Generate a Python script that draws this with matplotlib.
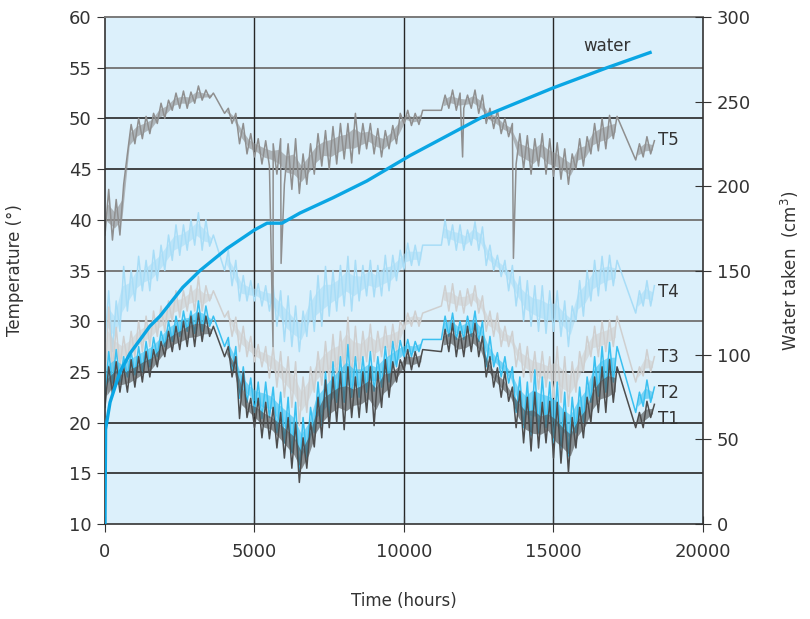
import matplotlib
matplotlib.use("Agg")
import matplotlib.pyplot as plt

plt.rcParams['font.family'] = ['DejaVu Sans']

# time grid (hours), one slot every 250 h; None = no logging (line jumps over)
step = 250
t_grid = [i * step for i in range(74)]

# low / high readings of each probe inside every 250 h slot (deg C)
T5_lo = [38.5, 38, 38.5, 46.5, 47.5, 48, 48.5, 49.5, 50, 50.8, 51, 51, 51.5, 51.8, 52, None,
         50.5, 49.5, 47.5, 46.5, 46.2, 45.5, 45.3, 44.5, 43.5, 43, 42.6, 43.5, 44.5, 45.3,
         45, 45.5, 46, 45.6, 46.5, 47, 46.5, 46.2, 47, 47.5, 49.5, 49.3, 49.4, None, None,
         50.8, 51, 50.8, 51, 51, 50.5, 49.5, 49, 48.5, 48.2, 45.5, 45, 44.5, 45.3, 44.5,
         44.3, 44, 43.5, 45, 45.3, 46.5, 46.8, 47, 48, None, None, 45.9, 46.2, 46.5]
T5_hi = [43, 42, 43.5, 49.4, 50, 50.2, 50.5, 51.5, 51.8, 52.5, 52.7, 52.6, 53.2, 52.8, 52.5, None,
         51, 50.5, 49.5, 48.5, 48, 47.8, 47.5, 48, 47.5, 48, 46.5, 47.5, 48.5, 48.8,
         49.2, 49.5, 49.5, 50.5, 49.5, 49.5, 49, 48.8, 49.3, 50.5, 50.8, 50.5, 50.8, None, None,
         52.3, 52.8, 52.5, 52.3, 52.8, 52.3, 51, 50.8, 50, 49.5, 48.5, 48.3, 48, 48.5, 48,
         47.6, 47, 46.5, 48, 48.2, 49.5, 50, 50.3, 50.2, None, None, 47.5, 48.2, 47.8]
# single-reading drop-outs of T5 (time, temp)
T5_spike_t = [5620, 5890, 11960, 13660]
T5_spike_v = [27.5, 35.7, 46.2, 36.2]

T4_lo = [28, 27, 29, 31, 32, 33, 33, 34, 35, 36, 36.5, 37, 37.5, 37, 37.4, None,
         35, 33.5, 32, 32, 32, 31.5, 31, 29.5, 28, 27.5, 27, 28.5, 29, 29.5,
         30.5, 31, 31.5, 31, 32, 32.5, 32.4, 32.5, 33, 34, 35.1, 35.5, 35.5, None, None,
         37.5, 37.5, 37, 37, 37.5, 37, 35.5, 35, 34.4, 33, 31.5, 30, 29.5, 29, 28.8,
         29, 28.5, 27.5, 30, 30.5, 32, 32.5, 33, 33.5, None, None, 30.8, 31.5, 31.5]
T4_hi = [33, 32, 35.4, 35, 36.4, 36, 37, 37.5, 38.5, 39.5, 39.5, 40, 40.7, 40, 38.5, None,
         37, 36, 34.5, 34, 33.7, 33.5, 33.5, 33, 32.5, 31.5, 31, 33, 34.5, 35.4,
         35, 35.5, 36.4, 36, 35.5, 36, 35.5, 36.5, 36.5, 37, 37.7, 37.5, 37.5, None, None,
         40, 39.5, 39.5, 39, 39.8, 39.3, 37.5, 36.5, 36, 35.5, 34.4, 34, 33.5, 33.5, 33,
         33, 32, 31.5, 34, 35, 36, 36.4, 36.5, 36, None, None, 33, 34, 33.5]

T3_lo = [24, 25, 25.4, 26, 26.5, 27, 27.5, 28.5, 29, 30, 30.4, 31, 31, 31, 32, None,
         30.4, 28.5, 27, 26.5, 26, 25.5, 24.4, 23.5, 22.5, 21.5, 19.7, 21, 23, 23.7,
         24, 24.4, 25, 24.5, 25, 26, 26, 26.5, 26.5, 27, 29.2, 29.5, 29.5, None, None,
         31.5, 31, 31, 30.8, 31.5, 30.8, 29, 28.5, 27.5, 27.5, 25.5, 24.5, 24, 23.3, 23.5,
         22.5, 22, 21.6, 23, 25, 26.5, 26.5, 27, 27.5, None, None, 24, 24.6, 25]
T3_hi = [31.4, 29.4, 28.5, 29, 30, 30.5, 31, 31.5, 32, 33, 33, 33.5, 34.4, 33.5, 33, None,
         31, 30.4, 29.5, 28.5, 27.7, 27.5, 27.5, 27, 26.5, 26, 24.5, 25.5, 27, 28,
         28.7, 29, 30.4, 29.5, 29, 29.7, 29, 29.5, 29.7, 30, 30.8, 31, 30.8, None, None,
         33.5, 33.7, 33, 33.2, 33.5, 32.5, 31, 30.8, 29.5, 29, 27.8, 27.5, 27, 27, 26.5,
         27.5, 26.5, 26, 27, 28.5, 29.5, 30, 30.1, 30.5, None, None, 25.5, 27.2, 26.5]

T2_lo = [22.5, 23.9, 24, 24.5, 24.7, 25, 25.5, 26.5, 27.5, 28, 28.5, 29, 28.8, 29, 29.5, None,
         27.5, 25, 22.4, 22, 21, 20.4, 20.5, 19, 18, 17, 15.1, 16.5, 19, 19.7,
         20.5, 22, 22, 22.5, 22.5, 23, 23.1, 23.5, 24, 25.5, 26.5, 26.5, 27, None, None,
         28.2, 28.5, 28.2, 28.2, 28.5, 28, 25.5, 25.5, 24.5, 23.9, 21, 19.5, 18.7, 19, 19.5,
         18, 17.5, 16.7, 19, 20, 22, 22.6, 23, 24, None, None, 21, 21.6, 22]
T2_hi = [27, 27.2, 26.5, 27, 27.5, 28, 28.4, 29, 30, 30.5, 31, 31, 32, 31.5, 30.5, None,
         28.4, 27.5, 25.5, 24.4, 24, 24, 23.5, 23, 22.5, 22, 20.5, 21.5, 24, 25,
         26, 26.5, 27.7, 26.5, 26.5, 27, 26.5, 27.5, 28, 28.1, 28.2, 28, 28.2, None, None,
         30.5, 30.8, 30, 30.5, 31, 30, 28.5, 26.9, 26.5, 25.5, 24.5, 24, 25.2, 24.5, 24,
         24, 23, 22.5, 23.5, 24.5, 26.5, 27.5, 27.9, 27.5, None, None, 23, 24.2, 23.5]

T1_lo = [21.5, 22.9, 23, 23, 23.5, 24, 24.5, 25.5, 26.5, 27, 27.2, 27.5, 27.5, 28, 28.5, None,
         26.5, 24.5, 20.4, 20.5, 19.5, 18.5, 18.4, 17.5, 16.5, 15.5, 14.1, 15.5, 17.6, 18.5,
         19.5, 20, 19.3, 20.5, 20.5, 21, 19.7, 21.5, 22.5, 24, 25.2, 25.2, 25.5, None, None,
         27, 27, 26.5, 26.5, 27, 26.5, 24.5, 23.5, 22.5, 22.1, 19.5, 18, 17.2, 17.5, 18,
         16.5, 16, 15.1, 17.5, 18.5, 20, 21, 21, 22, None, None, 19.5, 19.5, 20.5]
T1_hi = [25.5, 26, 25.5, 26.2, 26.5, 27, 27.2, 28, 29, 29.5, 30, 30.5, 30.8, 30.5, 29.5, None,
         27.5, 26.5, 25, 22.4, 22.4, 22, 21.5, 21, 20.5, 20, 18.5, 20, 22.5, 24.2,
         24.5, 25, 25.5, 24.5, 25, 25.5, 25, 26.2, 26, 26.2, 27.2, 27, 27.2, None, None,
         29.2, 29.8, 29, 29.5, 29.8, 28.5, 26.5, 25.4, 25, 23.5, 23.1, 22.5, 23, 22, 22.1,
         22, 21, 20.5, 21.5, 22.5, 24.5, 25.5, 26.2, 25.5, None, None, 21, 22.1, 21.8]

# cumulative water taken (cm3)
water_t = [0, 20, 170, 500, 840, 1500, 1840, 2600, 3180, 4080, 5000, 5420, 5920, 6520,
           7620, 8760, 10200, 12640, 14980, 16790, 18230]
water_v = [0, 56, 72, 90, 101, 117, 123, 140, 150, 163, 174, 178, 178, 184,
           193, 203, 218, 241, 258, 270, 279]

labels = ["T1", "T2", "T3", "T4", "T5"]
label_y = [20.4, 22.9, 26.5, 32.9, 47.9]


def trace(lo, hi, extra_t=(), extra_v=()):
    pts = []
    for t, a, b in zip(t_grid, lo, hi):
        if a is None:
            continue
        pts.append((t, a))
        pts.append((t + step / 2, b))
    pts += list(zip(extra_t, extra_v))
    pts.sort()
    return [p[0] for p in pts], [p[1] for p in pts]


def bands(lo, hi):
    # runs of consecutive logged slots, for the shaded noise band
    runs, cur = [], []
    for t, a, b in zip(t_grid, lo, hi):
        if a is None:
            if cur:
                runs.append(cur)
            cur = []
        else:
            cur.append((t, a, b))
    if cur:
        runs.append(cur)
    return runs


fig = plt.figure(figsize=(8.1, 6.19), dpi=100)
ax = fig.add_axes([0.1296, 0.1535, 0.7383, 0.819])
ax.set_facecolor("#dcf0fb")

# grid
for y in [15, 20, 25, 45, 50]:
    ax.axhline(y, color="#262626", lw=1.2, zorder=1)
for y in [30, 35, 40, 55]:
    ax.axhline(y, color="#7a7a7a", lw=1.4, zorder=1)
for x in [5000, 10000, 15000]:
    ax.axvline(x, color="#262626", lw=1.0, zorder=1)

series = [
    (T4_lo, T4_hi, "#a8ddf7", (), ()),
    (T3_lo, T3_hi, "#cfcfcf", (), ()),
    (T5_lo, T5_hi, "#8f8f8f", T5_spike_t, T5_spike_v),
    (T2_lo, T2_hi, "#3ac0f0", (), ()),
    (T1_lo, T1_hi, "#4d4d4d", (), ()),
]
for k, (lo, hi, c, et, ev) in enumerate(series):
    for run in bands(lo, hi):
        rt = [r[0] + step / 4 for r in run]
        rlo = [r[1] + (r[2] - r[1]) * 0.3 for r in run]
        rhi = [r[2] - (r[2] - r[1]) * 0.3 for r in run]
        ax.fill_between(rt, rlo, rhi, color=c, lw=0, alpha=0.6, zorder=2 + k * 0.1)
    x, y = trace(lo, hi, et, ev)
    ax.plot(x, y, color=c, lw=1.1, zorder=2 + k * 0.1 + 0.05)

for lab, y in zip(labels, label_y):
    ax.text(18500, y, lab, fontsize=12, color="#333333", va="center", ha="left")

ax.set_xlim(0, 20000)
ax.set_ylim(10, 60)
ax.set_xticks([0, 5000, 10000, 15000, 20000])
ax.set_yticks(range(10, 61, 5))
ax.tick_params(axis="y", direction="out", length=6, labelsize=13, colors="#333333")
ax.tick_params(axis="x", direction="inout", length=12, labelsize=13, colors="#333333", pad=8)
ax.set_xlabel("Time (hours)", fontsize=12, color="#333333", labelpad=22)
ax.set_ylabel("Temperature (°)", fontsize=12, color="#333333", labelpad=32)
for s in ["left", "bottom", "right"]:
    ax.spines[s].set_color("#333333")
    ax.spines[s].set_linewidth(1.2)
ax.spines["top"].set_color("#7a7a7a")
ax.spines["top"].set_linewidth(1.4)

ax2 = ax.twinx()
ax2.plot(water_t, water_v, color="#0aa6e4", lw=2.4, zorder=3)
ax2.set_ylim(0, 300)
ax2.set_yticks(range(0, 301, 50))
ax2.tick_params(axis="y", direction="inout", length=12, labelsize=13, colors="#333333", pad=4)
ax2.set_ylabel("Water taken  (cm$^3$)", fontsize=12, color="#333333", labelpad=20)
for s in ax2.spines.values():
    s.set_visible(False)
ax2.text(15985, 283, "water", fontsize=12, color="#333333", va="center", ha="left")

fig.savefig("out.png", dpi=100)
